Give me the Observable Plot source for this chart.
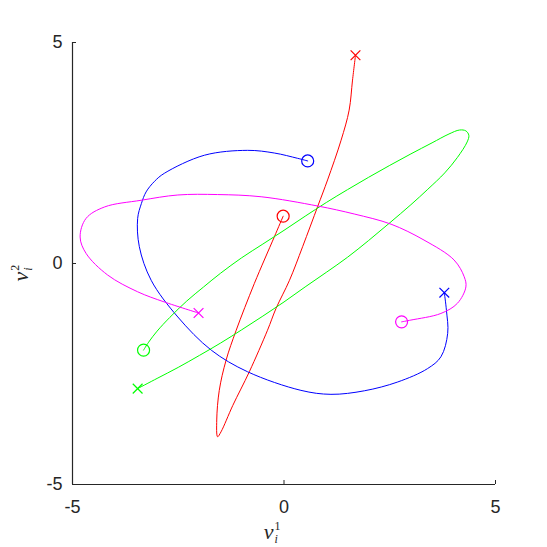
<!DOCTYPE html>
<html>
<head>
<meta charset="utf-8">
<script src="https://cdn.jsdelivr.net/npm/d3@7"></script>
<script src="https://cdn.jsdelivr.net/npm/@observablehq/plot@0.6"></script>
<style>
  html, body { margin: 0; padding: 0; background: #fff; }
  #chart { width: 547px; height: 547px; }
</style>
</head>
<body>
<div id="chart"></div>
<script>
// Tick values
const xTicks = [-5, 0, 5];
const yTicks = [-5, 0, 5];

// Series: red
const redX = [-0.02, -0.23, -0.70, -1.13, -1.37, -1.53, -1.59, -1.57, -1.49, -1.21, -0.82, -0.39, -0.19, 0.13, 0.44, 0.80, 1.03, 1.35, 1.54, 1.62, 1.69];
const redY = [1.07, 0.60, -0.45, -1.51, -2.19, -2.87, -3.54, -3.92, -3.81, -3.21, -2.45, -1.51, -1.02, -0.38, 0.38, 1.30, 1.89, 2.79, 3.47, 4.15, 4.71];

// Series: blue
const blueX = [0.56, 0.32, -0.23, -0.86, -1.88, -2.83, -3.06, -3.26, -3.37, -3.46, -3.42, -3.14, -2.51, -1.72, -0.86, 0.40, 1.11, 1.90, 2.69, 3.39, 3.71, 3.87, 3.84, 3.79];
const blueY = [2.32, 2.38, 2.50, 2.56, 2.45, 2.04, 1.86, 1.62, 1.36, 1.02, 0.38, -0.38, -1.21, -1.96, -2.45, -2.87, -2.96, -2.88, -2.68, -2.38, -2.11, -1.58, -1.06, -0.66];

// Series: green
const greenX = [-3.32, -3.20, -3.00, -2.70, -2.30, -1.90, -1.50, -1.00, -0.50, 0.00, 0.50, 1.00, 1.50, 2.00, 2.50, 3.00, 3.50, 3.90, 4.15, 4.30, 4.37, 4.33, 4.10, 3.80, 3.40, 3.00, 2.50, 2.00, 1.50, 1.00, 0.50, 0.00, -0.50, -1.00, -1.50, -2.00, -2.50, -3.00, -3.46];
const greenY = [-1.96, -1.78, -1.53, -1.22, -0.85, -0.53, -0.22, 0.13, 0.44, 0.75, 1.07, 1.38, 1.67, 1.95, 2.22, 2.48, 2.73, 2.93, 3.02, 3.00, 2.90, 2.75, 2.40, 2.05, 1.68, 1.33, 0.92, 0.52, 0.14, -0.20, -0.53, -0.87, -1.19, -1.50, -1.80, -2.08, -2.35, -2.60, -2.83];

// Series: magenta
const magentaX = [2.78, 3.00, 3.71, 4.10, 4.30, 4.26, 4.02, 3.31, 2.53, 1.66, 0.80, -0.54, -1.57, -2.51, -3.38, -4.24, -4.68, -4.82, -4.68, -4.17, -3.46, -2.83, -2.02];
const magentaY = [-1.32, -1.28, -1.13, -0.90, -0.53, -0.30, 0.08, 0.53, 0.89, 1.12, 1.30, 1.51, 1.56, 1.55, 1.43, 1.28, 1.02, 0.60, 0.23, -0.26, -0.64, -0.87, -1.12];

const seriesNames = ["red", "blue", "green", "magenta"];
const seriesColors = ["#ff0000", "#0000ff", "#00ff00", "#ff00ff"];
const seriesXs = [redX, blueX, greenX, magentaX];
const seriesYs = [redY, blueY, greenY, magentaY];

const rows = [];
const starts = [];
const ends = [];
seriesNames.forEach((name, s) => {
  const xs = seriesXs[s], ys = seriesYs[s];
  xs.forEach((x, i) => rows.push({name, color: seriesColors[s], x, y: ys[i]}));
  starts.push({name, color: seriesColors[s], x: xs[0], y: ys[0]});
  ends.push({name, color: seriesColors[s], x: xs[xs.length - 1], y: ys[ys.length - 1]});
});

const axisColor = "#262626";

const plot = Plot.plot({
  width: 547,
  height: 547,
  marginLeft: 72,
  marginRight: 52,
  marginTop: 42,
  marginBottom: 63,
  style: {fontFamily: "'Liberation Sans', Arial, sans-serif", fontSize: "18px", color: axisColor, background: "#fff"},
  x: {domain: [-5, 5]},
  y: {domain: [-5, 5]},
  marks: [
    Plot.line(rows, {x: "x", y: "y", z: "name", stroke: "color", strokeWidth: 1, curve: "catmull-rom"}),
    Plot.dot(starts, {x: "x", y: "y", stroke: "color", r: 6, strokeWidth: 1.2, fill: "none"}),
    Plot.dot(ends, {x: "x", y: "y", stroke: "color", symbol: "times", r: 4.5, strokeWidth: 1.2}),
    Plot.ruleX([-5], {stroke: axisColor, strokeWidth: 1.2}),
    Plot.ruleY([-5], {stroke: axisColor, strokeWidth: 1.2}),
    Plot.axisX({ticks: xTicks, tickSize: -4, tickPadding: 20, label: null, stroke: axisColor, fontSize: 18, tickFormat: d => String(d).replace("−", "-")}),
    Plot.axisY({ticks: yTicks, tickSize: -4, tickPadding: 14, label: null, stroke: axisColor, fontSize: 18, tickFormat: d => String(d).replace("−", "-")})
  ]
});

document.getElementById("chart").appendChild(plot);

// Axis labels (LaTeX-like v_i^1 and v_i^2)
const svg = d3.select(plot);
function mathLabel(g, sup) {
  const t = g.append("text")
    .attr("font-family", "'Liberation Serif', 'DejaVu Serif', serif")
    .attr("fill", axisColor)
    .attr("font-size", 22);
  t.append("tspan").attr("font-style", "italic").text("v");
  t.append("tspan").attr("font-size", 12).attr("dy", -9).attr("dx", 1).text("" + sup);
  t.append("tspan").attr("font-size", 12).attr("font-style", "italic").attr("dy", 13).attr("dx", -6).text("i");
  return t;
}
const gx = svg.append("g").attr("transform", "translate(272,539)");
mathLabel(gx, "1");
const gy = svg.append("g").attr("transform", "translate(28,273) rotate(-90)");
mathLabel(gy, "2");
</script>
</body>
</html>
